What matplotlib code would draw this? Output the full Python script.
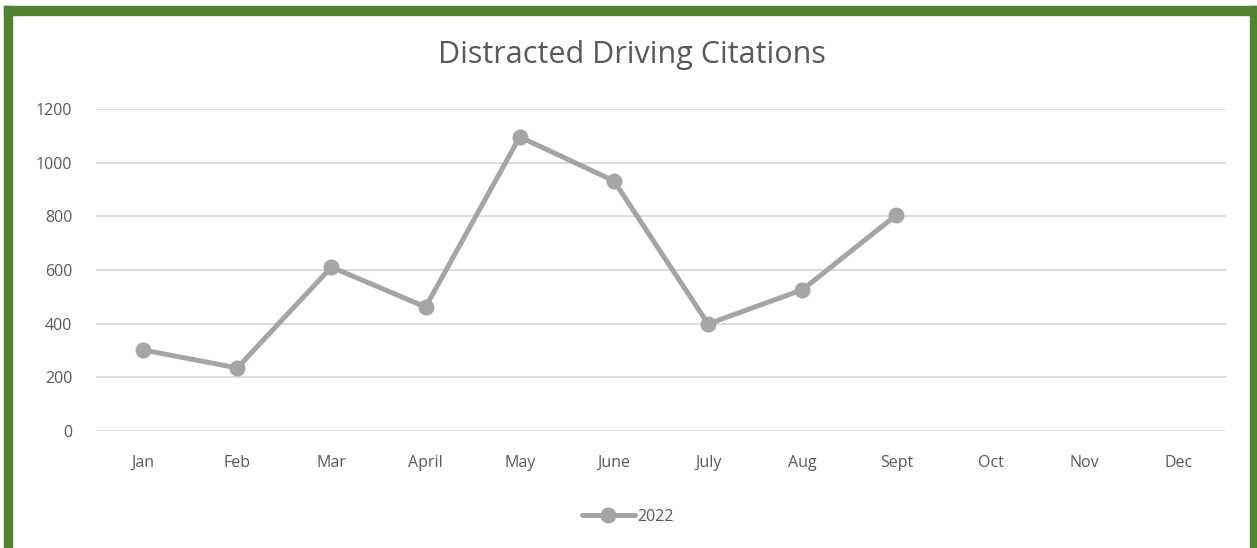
import matplotlib.pyplot as plt
from matplotlib.patches import Rectangle

months = ['Jan', 'Feb', 'Mar', 'April', 'May', 'June', 'July', 'Aug', 'Sept', 'Oct', 'Nov', 'Dec']
citations_2022 = [302, 235, 611, 462, 1096, 932, 399, 526, 805]
yticks = [0, 200, 400, 600, 800, 1000, 1200]

W, H = 1257, 548
fig = plt.figure(figsize=(W / 100, H / 100), dpi=100)
plt.rcParams['font.family'] = ['Open Sans', 'DejaVu Sans']
txt = '#595959'
green = '#548235'

# green frame (no bottom edge, it is cut off)
fig.patches.append(Rectangle((4 / W, 0), 8 / W, 1 - 6 / H, transform=fig.transFigure, color=green))
fig.patches.append(Rectangle((4 / W, 1 - 15 / H), 1 - 4 / W, 9 / H, transform=fig.transFigure, color=green))
fig.patches.append(Rectangle((1250 / W, 0), 7 / W, 1 - 6 / H, transform=fig.transFigure, color=green))

ax = fig.add_axes([96 / W, 1 - 431 / H, 1130 / W, 322 / H])
x = list(range(len(citations_2022)))
ax.plot(x, citations_2022, color='#A5A5A5', lw=3.6, marker='o', ms=10.5,
        solid_capstyle='round', label='2022')

ax.set_xlim(-0.5, 11.5)
ax.set_ylim(0, 1200)
ax.set_xticks(range(len(months)))
ax.set_xticklabels(months)
ax.set_yticks(yticks)
ax.grid(axis='y', color='#D9D9D9', lw=1.3)
ax.set_axisbelow(True)
for s in ax.spines.values():
    s.set_visible(False)
ax.tick_params(length=0, labelsize=11.5, colors=txt)
ax.tick_params(axis='x', pad=17)
ax.tick_params(axis='y', pad=17)

fig.text(632 / W, 1 - 55 / H, 'Distracted Driving Citations', ha='center', va='center',
         fontsize=22, color=txt)
fig.legend(loc='center', bbox_to_anchor=(628 / W, 1 - 517 / H), frameon=False,
           fontsize=11.5, labelcolor=txt, handlelength=3.3, handletextpad=0.2)

fig.savefig('out.png', dpi=100)
